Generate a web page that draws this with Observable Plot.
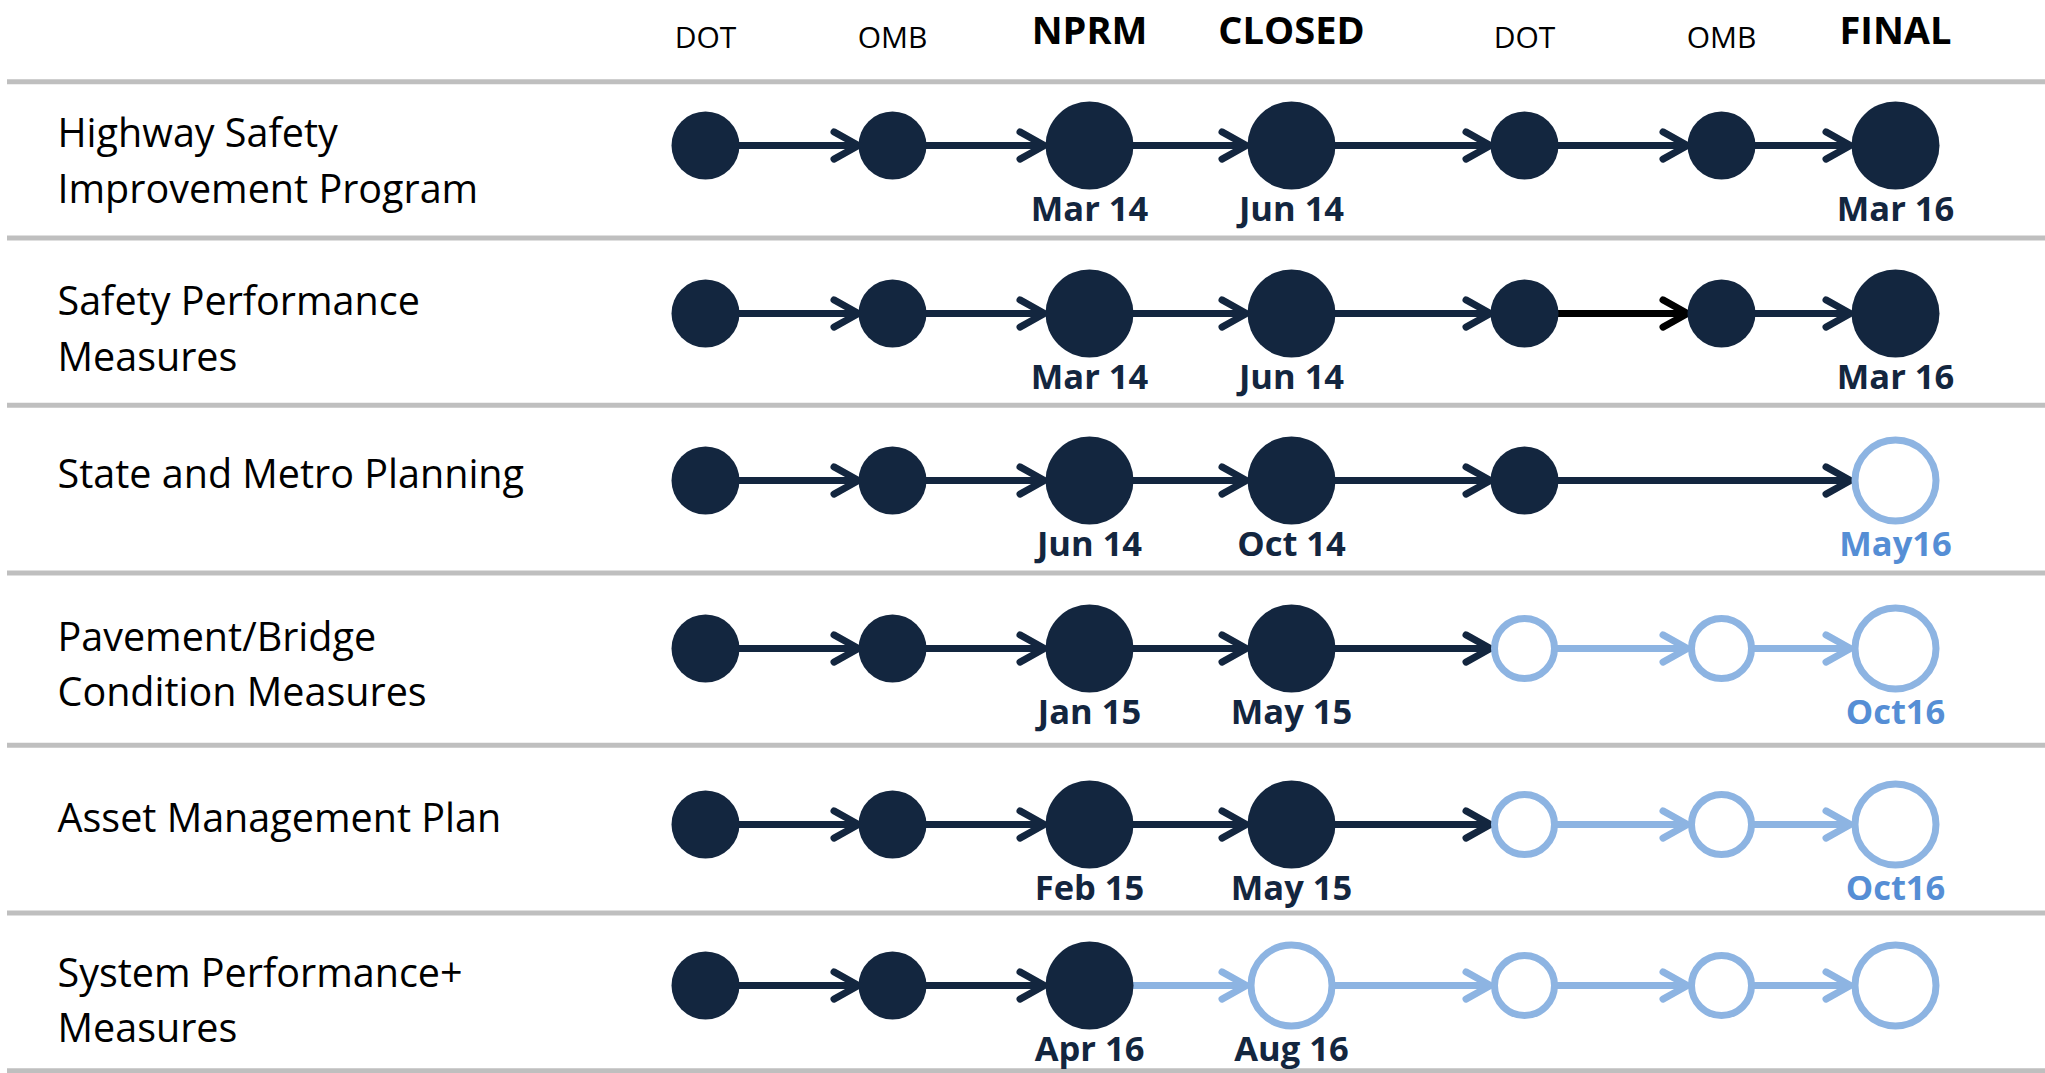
<!DOCTYPE html>
<html><head><meta charset="utf-8">
<script src="https://cdn.jsdelivr.net/npm/d3@7"></script>
<script src="https://cdn.jsdelivr.net/npm/@observablehq/plot@0.6"></script>
<style>html,body{margin:0;padding:0;background:#fff;overflow:hidden}</style>
</head><body><div id="chart"></div>
<script>
// ---- data ----
const stages = ["DOT", "OMB", "NPRM", "CLOSED", "DOT", "OMB", "FINAL"];
const majorStages = [false, false, true, true, false, false, true];
const rules = [
  "Highway Safety\nImprovement Program",
  "Safety Performance\nMeasures",
  "State and Metro Planning",
  "Pavement/Bridge\nCondition Measures",
  "Asset Management Plan",
  "System Performance+\nMeasures"
];
// node status per stage: "done" = completed, "pending" = upcoming, null = no step
const nodeStatus = [
  ["done", "done", "done", "done", "done", "done", "done"],
  ["done", "done", "done", "done", "done", "done", "done"],
  ["done", "done", "done", "done", "done", null, "pending"],
  ["done", "done", "done", "done", "pending", "pending", "pending"],
  ["done", "done", "done", "done", "pending", "pending", "pending"],
  ["done", "done", "done", "pending", "pending", "pending", "pending"]
];
// arrow status per connection (in order along each row)
const arrowStatus = [
  ["done", "done", "done", "done", "done", "done"],
  ["done", "done", "done", "done", "accent", "done"],
  ["done", "done", "done", "done", "done"],
  ["done", "done", "done", "done", "pending", "pending"],
  ["done", "done", "done", "done", "pending", "pending"],
  ["done", "done", "pending", "pending", "pending", "pending"]
];
const nprmDates = ["Mar 14", "Mar 14", "Jun 14", "Jan 15", "Feb 15", "Apr 16"];
const closedDates = ["Jun 14", "Jun 14", "Oct 14", "May 15", "May 15", "Aug 16"];
const finalDates = ["Mar 16", "Mar 16", "May16", "Oct16", "Oct16", ""];
const finalDateStatus = ["done", "done", "pending", "pending", "pending", "pending"];

// ---- derived tables ----
const NAVY = "#13263f", LIGHT = "#8db4e2", LABEL_LIGHT = "#558ed5";
const nodes = [];
nodeStatus.forEach((row, r) => row.forEach((s, k) => { if (s) nodes.push({row: r, stage: k, status: s, major: majorStages[k]}); }));
const arrows = [];
nodeStatus.forEach((row, r) => {
  const idx = row.map((s, k) => s ? k : -1).filter(k => k >= 0);
  for (let j = 1; j < idx.length; ++j) arrows.push({row: r, from: idx[j - 1], to: idx[j], status: arrowStatus[r][j - 1], major: majorStages[idx[j]]});
});
const dateLabels = [];
rules.forEach((_, r) => {
  dateLabels.push({row: r, stage: 2, text: nprmDates[r], status: "done"});
  dateLabels.push({row: r, stage: 3, text: closedDates[r], status: "done"});
  if (finalDates[r]) dateLabels.push({row: r, stage: 6, text: finalDates[r], status: finalDateStatus[r]});
});
const stageIdx = d3.range(stages.length);

const arrowOpts = (major) => ({
  x1: "from", x2: "to", y: "row", stroke: "status", strokeWidth: 7,
  headAngle: 58, headLength: 6, insetEnd: major ? 45 : 34,
  strokeLinecap: "round", strokeLinejoin: "round"
});

const chart = Plot.plot({
  width: 2045, height: 1073, margin: 0,
  style: {fontFamily: "'Open Sans', sans-serif", background: "#fff", color: "#000"},
  x: {type: "linear", domain: stageIdx, range: [705, 892, 1089, 1291, 1524, 1721, 1895], axis: null},
  y: {type: "linear", domain: d3.range(rules.length), range: [145, 313, 480, 648, 824, 985], axis: null},
  color: {domain: ["done", "pending", "accent"], range: [NAVY, LIGHT, "#000"]},
  marks: [
    Plot.ruleY([-0.38, ...d3.range(rules.length - 1).map(i => i + 0.55), rules.length - 0.47],
      {stroke: "#bfbfbf", strokeWidth: 5, insetLeft: 7}),
    Plot.text(stageIdx.filter(k => !majorStages[k]), {x: d => d, frameAnchor: "top", lineAnchor: "middle", dy: 38,
      text: d => stages[d], fontSize: 30, fill: "#000"}),
    Plot.text(stageIdx.filter(k => majorStages[k]), {x: d => d, frameAnchor: "top", lineAnchor: "middle", dy: 31,
      text: d => stages[d], fontSize: 38, fontWeight: "bold", fill: "#000"}),
    Plot.text(rules, {y: (d, i) => i + (d.includes("\n") ? 0.07 : -0.06), frameAnchor: "left", dx: 57, textAnchor: "start",
      text: d => d, fontSize: 39.5, lineHeight: 1.4, fill: "#000"}),
    Plot.arrow(arrows.filter(d => !d.major), arrowOpts(false)),
    Plot.arrow(arrows.filter(d => d.major), arrowOpts(true)),
    Plot.dot(nodes.filter(d => d.status === "done" && !d.major), {x: "stage", y: "row", r: 34, fill: NAVY, stroke: null}),
    Plot.dot(nodes.filter(d => d.status === "done" && d.major), {x: "stage", y: "row", r: 44, fill: NAVY, stroke: null}),
    Plot.dot(nodes.filter(d => d.status === "pending" && !d.major), {x: "stage", y: "row", r: 30, fill: "#fff", stroke: LIGHT, strokeWidth: 7}),
    Plot.dot(nodes.filter(d => d.status === "pending" && d.major), {x: "stage", y: "row", r: 40.5, fill: "#fff", stroke: LIGHT, strokeWidth: 7}),
    Plot.text(dateLabels, {x: "stage", y: "row", dy: 64, text: "text", fontSize: 34.5, fontWeight: "bold",
      fill: d => d.status === "done" ? NAVY : LABEL_LIGHT})
  ]
});
document.getElementById("chart").append(chart);
</script>
</body></html>
